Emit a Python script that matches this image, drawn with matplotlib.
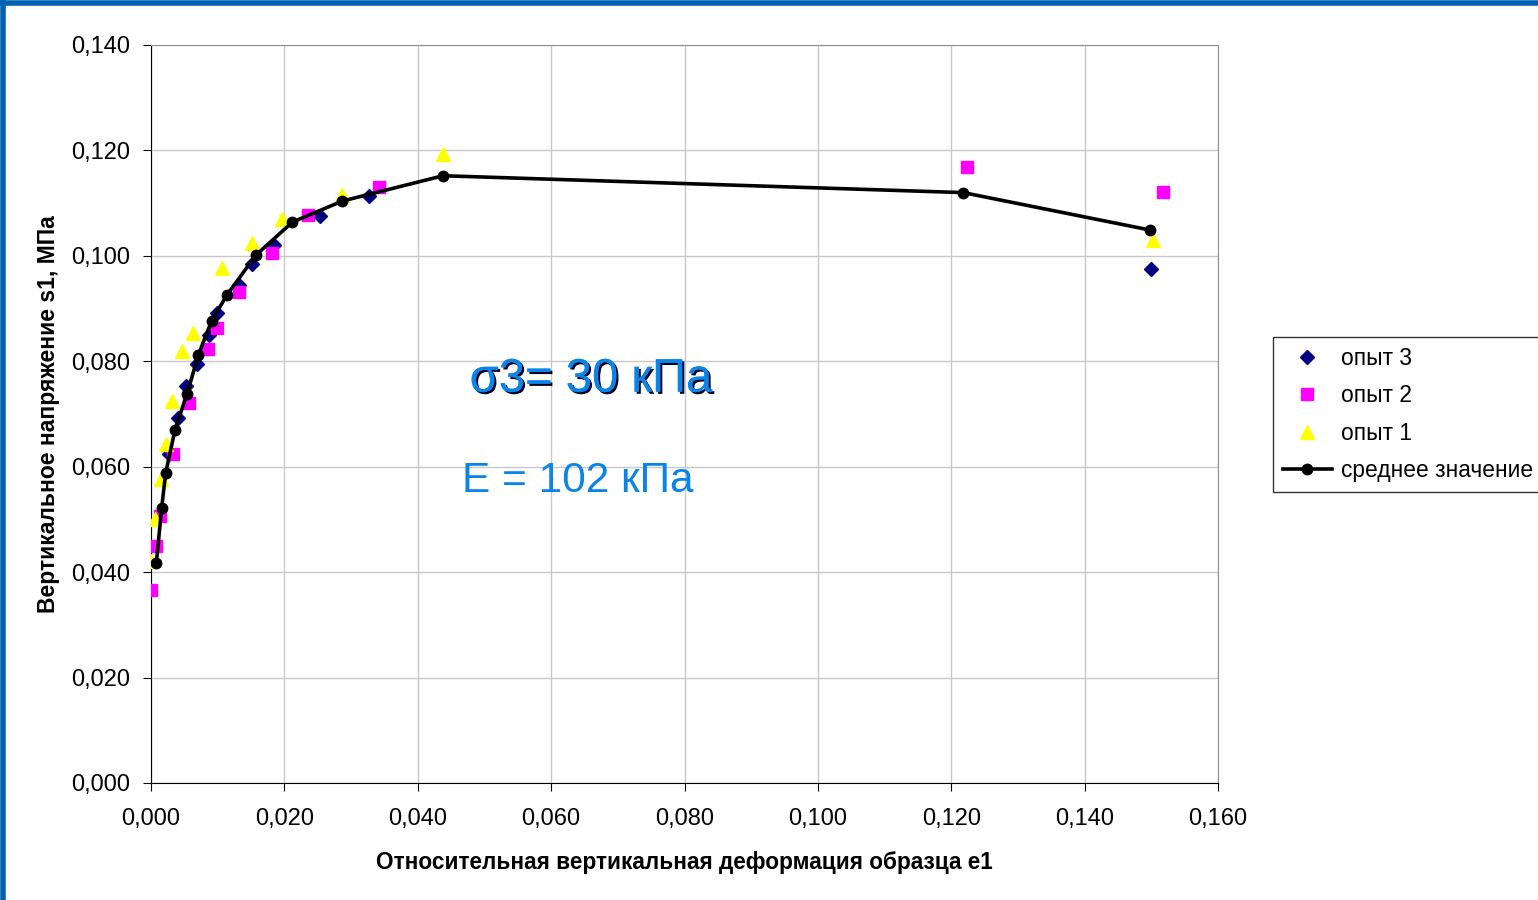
import matplotlib.pyplot as plt
import matplotlib.patheffects as pe
from matplotlib.ticker import FuncFormatter, MultipleLocator
from matplotlib.lines import Line2D

plt.rcParams['font.family'] = ['Liberation Sans', 'DejaVu Sans']

# опыт 3
x3 = [0.0027, 0.0041, 0.0052, 0.0069, 0.0087, 0.0099, 0.0132, 0.0151, 0.0185, 0.0253, 0.0327, 0.1499]
y3 = [0.0624, 0.0693, 0.0753, 0.0794, 0.0850, 0.0891, 0.0944, 0.0985, 0.1021, 0.1076, 0.1113, 0.0975]
# опыт 2
x2 = [0.0000, 0.0008, 0.0013, 0.0033, 0.0057, 0.0085, 0.0099, 0.0132, 0.0181, 0.0236, 0.0342, 0.1224, 0.1517]
y2 = [0.0366, 0.0450, 0.0507, 0.0624, 0.0720, 0.0823, 0.0863, 0.0932, 0.1005, 0.1078, 0.1130, 0.1169, 0.1121]
# опыт 1
x1 = [0.0000, 0.0006, 0.0015, 0.0023, 0.0032, 0.0046, 0.0063, 0.0107, 0.0151, 0.0196, 0.0286, 0.0438, 0.1502]
y1 = [0.0422, 0.0500, 0.0576, 0.0643, 0.0725, 0.0820, 0.0853, 0.0977, 0.1025, 0.1070, 0.1116, 0.1194, 0.1030]
# среднее значение
xm = [0.0008, 0.0016, 0.0022, 0.0036, 0.0054, 0.0071, 0.0091, 0.0114, 0.0157, 0.0212, 0.0287, 0.0438, 0.1218, 0.1498]
ym = [0.0417, 0.0522, 0.0588, 0.0670, 0.0738, 0.0812, 0.0877, 0.0926, 0.1001, 0.1064, 0.1104, 0.1152, 0.1120, 0.1049]

fig = plt.figure(figsize=(15.38, 9), dpi=100)
ax = fig.add_axes([151/1538, 1-783/900, (1218-151)/1538, (783-45)/900])

ax.plot(x3, y3, 'D', color='#000080', markersize=7.5, linestyle='none', label='опыт 3', zorder=3)
ax.plot(x2, y2, 's', color='#FF00FF', markersize=8, linestyle='none', label='опыт 2', zorder=4)
ax.plot(x1, y1, '^', color='#FFFF00', markersize=9.5, linestyle='none', label='опыт 1', zorder=5)
ax.plot(xm, ym, 'o-', color='black', markersize=7.5, linewidth=2.6, label='среднее значение', zorder=6)

ax.set_xlim(0, 0.16)
ax.set_ylim(0, 0.14)
ax.xaxis.set_major_locator(MultipleLocator(0.02))
ax.yaxis.set_major_locator(MultipleLocator(0.02))
fmt = FuncFormatter(lambda v, p: ('%.3f' % v).replace('.', ','))
ax.xaxis.set_major_formatter(fmt)
ax.yaxis.set_major_formatter(fmt)
ax.grid(True, color='#C8C8C8', linewidth=1)
ax.set_axisbelow(True)
for s in ['top', 'right']:
    ax.spines[s].set_color('#909090')
for s in ['left', 'bottom']:
    ax.spines[s].set_color('black')
ax.tick_params(direction='out', length=6, labelsize=17)
ax.tick_params(axis='y', pad=9)
ax.tick_params(axis='x', pad=12)

ax.set_xlabel('Относительная вертикальная деформация образца е1', fontsize=16.3, fontweight='bold', labelpad=15)
ax.set_ylabel('Вертикальное напряжение s1, МПа', fontsize=16.5, fontweight='bold', labelpad=8)

ax.text(0.066, 0.0765, 'σ3= 30 кПа', fontsize=34, color='#0A84E6', ha='center', va='center', zorder=8,
        path_effects=[pe.withSimplePatchShadow(offset=(1.5, -1.5), shadow_rgbFace='#000020', alpha=1), pe.Normal()])
ax.text(0.064, 0.0573, 'E = 102 кПа', fontsize=30.5, color='#0A84E6', ha='center', va='center', zorder=8)

leg = ax.legend(loc='upper left', bbox_to_anchor=(1273/1538, 1-337/900), bbox_transform=fig.transFigure,
                fontsize=16.4, frameon=True, fancybox=False, edgecolor='black', borderpad=0.42,
                labelspacing=0.64, handlelength=2.15, handletextpad=0.4, borderaxespad=0)
leg.get_frame().set_linewidth(1)

fig.add_artist(Line2D([0, 1], [1-2.5/900, 1-2.5/900], color='#0062B0', linewidth=4, transform=fig.transFigure))
fig.add_artist(Line2D([2.5/1538, 2.5/1538], [0, 1], color='#0062B0', linewidth=4, transform=fig.transFigure))

fig.savefig('out.png', dpi=100)
